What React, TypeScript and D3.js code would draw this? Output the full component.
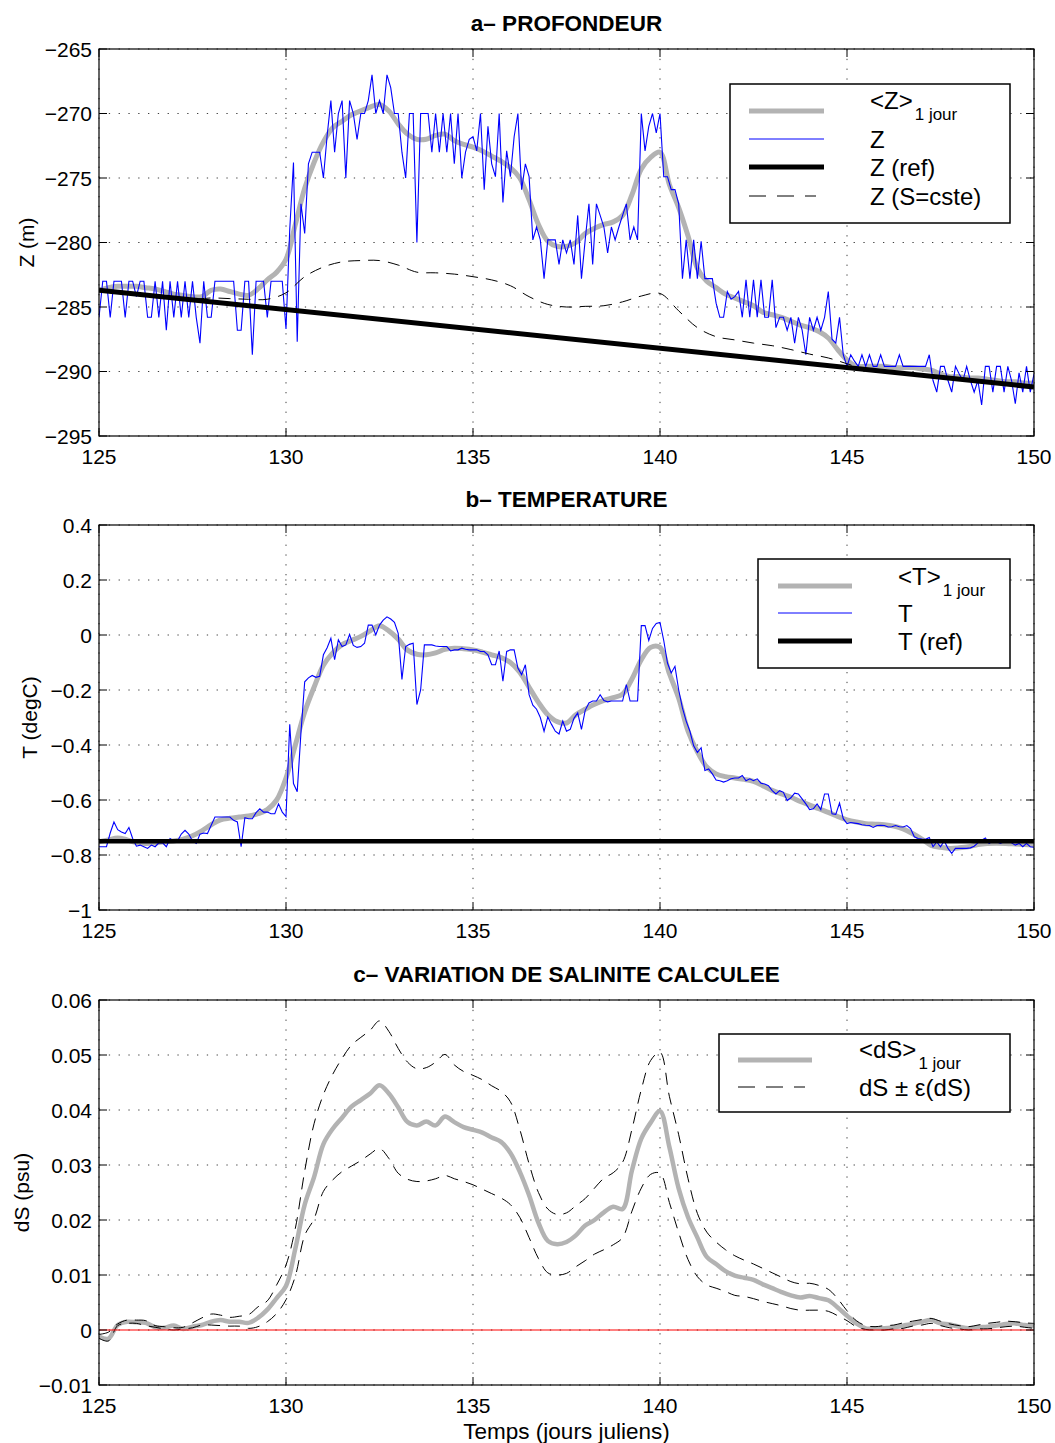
import React from "react";
import * as d3 from "d3";

const FONT = "'Liberation Sans', Arial, Helvetica, sans-serif";
const W = 1055;
const H = 1443;
const PLOT_LEFT = 99;
const PLOT_RIGHT = 1034;

const DAY_TICKS = [125, 130, 135, 140, 145, 150];
const Z_TICKS = [-265, -270, -275, -280, -285, -290, -295];
const T_TICKS = [0.4, 0.2, 0, -0.2, -0.4, -0.6, -0.8, -1];
const DS_TICKS = [0.06, 0.05, 0.04, 0.03, 0.02, 0.01, 0, -0.01];

const DAY_START = 125;
const FINE_STEP = 0.1;
const SMOOTH_STEP = 0.25;
const HALF_STEP = 0.5;

// a- PROFONDEUR : raw Z every 0.1 day
const zRaw = [
  -285.8, -283, -283, -285.8, -283, -283, -283, -285.8, -283, -283,
  -284.2, -283, -283, -285.8, -285.8, -283, -285.8, -283, -286.8, -283,
  -285.8, -283, -285.8, -283, -285.8, -283, -285.8, -287.8, -283, -285.8,
  -285.8, -283, -283, -283, -283, -283, -283, -286.8, -286.8, -283,
  -283, -288.7, -283, -283, -283, -285.8, -283, -283, -283, -283,
  -286.7, -279, -273.8, -287.7, -277, -279.3, -273.9, -273, -273, -273,
  -275, -271.7, -269, -273, -270, -269, -275, -269, -270, -272,
  -270, -270, -269, -267, -270, -269, -270, -267, -268, -270,
  -270, -273, -275, -270, -270, -280, -270, -270, -270, -273,
  -270, -273, -270, -273, -270, -273.9, -270, -275, -273, -272,
  -271.8, -272.9, -270, -275.9, -271, -273.9, -274.9, -270, -276.9, -272.9,
  -274.9, -271.8, -270, -275.9, -273.9, -274.9, -279.8, -278.8, -279.8, -282.8,
  -279.8, -279.8, -279.8, -281.7, -279.8, -280.8, -279.8, -281.7, -277.9, -282.8,
  -279.8, -277, -281.7, -277, -277.9, -278.8, -280.8, -278.8, -279.8, -278.8,
  -277.9, -277, -279.8, -278.8, -279.8, -270, -272.9, -271, -270, -271.5,
  -270, -274.9, -274.9, -275.9, -275.9, -277, -282.8, -279.8, -282.8, -279.8,
  -282.8, -279.9, -282.8, -282.8, -282.8, -284.7, -285.8, -285.8, -283.8, -284.4,
  -284.2, -283.8, -285.8, -282.9, -285.8, -282.9, -285.8, -282.9, -285.8, -285.8,
  -282.9, -286.6, -285.8, -285.8, -286.8, -285.8, -287.8, -285.8, -286.8, -288.7,
  -285.8, -286.8, -285.8, -286.8, -285.8, -283.8, -287.5, -287.8, -285.8, -288.7,
  -289.6, -288.7, -289.2, -289.6, -288.7, -289.6, -288.7, -289.6, -289.6, -288.7,
  -289.6, -289.6, -289.6, -289.6, -288.7, -289.6, -289.6, -289.6, -289.6, -289.6,
  -289.6, -289.6, -288.7, -290.7, -291.6, -289.6, -289.6, -290.7, -291.6, -289.6,
  -290.2, -290.7, -289.6, -290.7, -291.6, -290.7, -292.6, -289.6, -289.6, -291.6,
  -289.6, -289.6, -291.6, -289.6, -290.7, -292.5, -290.1, -291.6, -289.6, -291.6,
  -290.2,
];

// <Z> 1 jour, every 0.25 day
const zMean = [
  -283.7, -283.5, -283.4, -283.4, -283.4, -283.5, -283.6, -283.8, -284.0, -284.1,
  -284.2, -284.2, -283.7, -283.6, -283.8, -284.0, -284.1, -283.6, -282.9, -282.3,
  -281.3, -278.6, -275.8, -273.8, -272.2, -271.1, -270.6, -270.1, -269.8, -269.5,
  -269.3, -269.8, -270.8, -271.6, -272.0, -272.0, -271.7, -271.6, -272.1, -272.4,
  -272.6, -272.9, -273.3, -273.7, -274.2, -275.0, -276.7, -278.6, -279.9, -280.3,
  -280.3, -280.0, -279.3, -278.9, -278.6, -278.4, -277.9, -276.3, -274.3, -273.4,
  -273.0, -275.5, -277.3, -279.5, -282.0, -283.0, -283.5, -284.0, -284.3, -284.6,
  -284.9, -285.4, -285.6, -285.8, -286.1, -286.4, -286.6, -286.9, -287.4, -288.3,
  -289.1, -289.6, -289.6, -289.6, -289.6, -289.7, -289.7, -289.7, -289.8, -289.9,
  -290.2, -290.4, -290.4, -290.5, -290.5, -290.6, -290.7, -290.8, -290.8, -290.9,
  -290.9,
];

const refDays = [125, 150];
const zRef = [-283.7, -291.2];

// Z (S=cste), every 0.5 day
const zConstS = [
  -283.7, -283.85, -284.0, -284.15, -284.3, -284.4, -284.3, -284.35, -284.4, -284.4,
  -283.9, -282.65, -281.9, -281.5, -281.4, -281.4, -281.75, -282.3, -282.35, -282.45,
  -282.65, -282.9, -283.35, -284.2, -284.8, -285.0, -284.95, -284.9, -284.6, -284.15,
  -283.95, -285.3, -286.6, -287.3, -287.55, -287.8, -288.0, -288.3, -288.65, -288.95,
  -289.4, -289.85, -290.0, -290.15, -290.3, -290.45, -290.6, -290.75, -290.9, -291.05,
  -291.2,
];

// b- TEMPERATURE : raw T every 0.1 day
const tRaw = [
  -0.77, -0.77, -0.77, -0.72, -0.68, -0.708, -0.716, -0.722, -0.70, -0.74,
  -0.768, -0.764, -0.77, -0.776, -0.764, -0.77, -0.756, -0.756, -0.77, -0.74,
  -0.749, -0.749, -0.724, -0.71, -0.724, -0.749, -0.758, -0.724, -0.72, -0.722,
  -0.692, -0.662, -0.662, -0.662, -0.662, -0.662, -0.674, -0.68, -0.77, -0.664,
  -0.668, -0.668, -0.646, -0.632, -0.644, -0.644, -0.65, -0.65, -0.614, -0.644,
  -0.66, -0.325, -0.54, -0.57, -0.355, -0.17, -0.156, -0.147, -0.154, -0.15,
  -0.072, -0.046, -0.012, -0.09, -0.018, -0.042, -0.036, 0.002, -0.038, -0.045,
  -0.042, -0.03, 0.036, 0.036, 0.0, 0.036, 0.054, 0.066, 0.058, 0.046,
  0.006, -0.162, -0.042, -0.034, -0.03, -0.253, -0.2, -0.036, -0.036, -0.036,
  -0.04, -0.042, -0.042, -0.042, -0.058, -0.054, -0.054, -0.048, -0.052, -0.054,
  -0.054, -0.054, -0.06, -0.06, -0.072, -0.108, -0.108, -0.058, -0.168, -0.06,
  -0.054, -0.054, -0.12, -0.144, -0.108, -0.217, -0.255, -0.27, -0.30, -0.35,
  -0.298, -0.325, -0.35, -0.36, -0.313, -0.35, -0.343, -0.303, -0.283, -0.343,
  -0.274, -0.247, -0.24, -0.24, -0.217, -0.238, -0.243, -0.24, -0.24, -0.24,
  -0.24, -0.18, -0.24, -0.24, -0.24, 0.034, 0.034, -0.02, 0.024, 0.042,
  0.046, -0.02, -0.102, -0.138, -0.114, -0.2, -0.265, -0.313, -0.35, -0.403,
  -0.427, -0.41, -0.493, -0.487, -0.505, -0.527, -0.53, -0.535, -0.53, -0.523,
  -0.52, -0.52, -0.511, -0.53, -0.523, -0.53, -0.523, -0.539, -0.542, -0.548,
  -0.566, -0.578, -0.566, -0.572, -0.602, -0.592, -0.575, -0.578, -0.596, -0.614,
  -0.635, -0.632, -0.614, -0.635, -0.578, -0.578, -0.65, -0.652, -0.611, -0.668,
  -0.686, -0.682, -0.684, -0.686, -0.69, -0.692, -0.693, -0.70, -0.693, -0.692,
  -0.693, -0.698, -0.697, -0.693, -0.697, -0.698, -0.693, -0.704, -0.734, -0.74,
  -0.742, -0.743, -0.736, -0.77, -0.752, -0.77, -0.749, -0.776, -0.794, -0.776,
  -0.776, -0.776, -0.776, -0.774, -0.768, -0.756, -0.746, -0.738, -0.758, -0.749,
  -0.752, -0.758, -0.752, -0.746, -0.756, -0.764, -0.758, -0.77, -0.758, -0.77,
  -0.772,
];

// <T> 1 jour, every 0.25 day
const tMean = [
  -0.752, -0.745, -0.738, -0.745, -0.755, -0.758, -0.756, -0.752, -0.749, -0.742,
  -0.73, -0.712, -0.69, -0.672, -0.666, -0.662, -0.658, -0.65, -0.635, -0.6,
  -0.52, -0.4, -0.28, -0.19, -0.11, -0.065, -0.035, -0.02, -0.005, 0.015,
  0.034, 0.015, -0.015, -0.055, -0.07, -0.072, -0.065, -0.052, -0.048, -0.05,
  -0.054, -0.062, -0.072, -0.082, -0.1, -0.135, -0.19, -0.245, -0.29, -0.315,
  -0.32, -0.29, -0.27, -0.252, -0.238, -0.228, -0.215, -0.16, -0.09, -0.045,
  -0.045, -0.14, -0.23, -0.35, -0.425, -0.48, -0.505, -0.515, -0.52, -0.525,
  -0.532, -0.548, -0.565, -0.578, -0.59, -0.605, -0.618, -0.632, -0.645, -0.66,
  -0.672, -0.68, -0.686, -0.688, -0.69, -0.695, -0.705, -0.722, -0.742, -0.765,
  -0.772, -0.776, -0.774, -0.77, -0.762, -0.758, -0.757, -0.758, -0.76, -0.762,
  -0.764,
];

const tRef = [-0.75, -0.75];

// c- VARIATION DE SALINITE : every 0.25 day
const dsMean = [
  -0.0012, -0.0016, 0.0009, 0.0015, 0.0014, 0.0013, 0.0005, 0.0004, 0.0008, 0.0002,
  0.0006, 0.0009, 0.0015, 0.0018, 0.0015, 0.0015, 0.0013, 0.0022, 0.0037, 0.0058,
  0.008, 0.0148, 0.0228, 0.0278, 0.0338, 0.0366, 0.0386, 0.0406, 0.0418, 0.043,
  0.0445, 0.043, 0.0405, 0.0378, 0.0372, 0.0379, 0.0372, 0.0388, 0.0378, 0.0369,
  0.0364, 0.0359, 0.035, 0.0342, 0.0322, 0.0288, 0.0245, 0.0195, 0.0162, 0.0156,
  0.016, 0.0172, 0.019, 0.02, 0.0214, 0.0224, 0.022, 0.029, 0.0348, 0.0377,
  0.0398, 0.0333, 0.0257, 0.0205, 0.0168, 0.0133, 0.012, 0.0107, 0.0099, 0.0095,
  0.0091, 0.0083, 0.0076, 0.0069, 0.0063, 0.0059, 0.0062, 0.0058, 0.0054, 0.0041,
  0.0026, 0.0012, 0.0003, 0.0003, 0.0003, 0.0005, 0.0008, 0.0011, 0.0015, 0.0018,
  0.0012, 0.001, 0.0006, 0.0003, 0.0005, 0.0006, 0.0008, 0.0011, 0.0012, 0.0009,
  0.0007,
];

const dsUpper = [
  -0.0008, -0.0004, 0.0011, 0.0018, 0.0018, 0.0017, 0.0008, 0.0006, 0.0004, 0.0005,
  0.0013, 0.0022, 0.0029, 0.0027, 0.0023, 0.0025, 0.0028, 0.0042, 0.0053, 0.0082,
  0.0118, 0.0185, 0.0289, 0.0375, 0.0428, 0.0465, 0.0494, 0.0518, 0.0532, 0.0545,
  0.0562, 0.0543, 0.0512, 0.0487, 0.0475, 0.0477, 0.0487, 0.0501, 0.0482, 0.047,
  0.0463, 0.0455, 0.0444, 0.0434, 0.0415, 0.0365, 0.0302, 0.025, 0.022, 0.021,
  0.0213, 0.0226, 0.0239, 0.0258, 0.0276, 0.0286, 0.0305, 0.0365, 0.0437, 0.049,
  0.0505, 0.0425, 0.0355, 0.0275, 0.0212, 0.0178, 0.016, 0.0146, 0.0135, 0.0127,
  0.012, 0.0112, 0.0104, 0.0096, 0.0088, 0.0084, 0.0085, 0.0081, 0.0074, 0.0057,
  0.0035, 0.0017, 0.0008, 0.0006, 0.0008, 0.0009, 0.0013, 0.0016, 0.0019, 0.0021,
  0.0016, 0.0011, 0.0008, 0.0006, 0.0009, 0.0012, 0.0014, 0.0016, 0.0015, 0.0013,
  0.0012,
];

const dsLower = [
  -0.0015, -0.002, 0.0008, 0.0012, 0.0012, 0.0008, 0.0005, 0.0002, 0.0, 0.0002,
  0.0004, 0.0009, 0.0009, 0.0008, 0.0007, 0.0007, 0.0003, 0.0006, 0.0015, 0.003,
  0.0055, 0.0098, 0.0172, 0.0202, 0.0252, 0.0273, 0.0288, 0.0298, 0.0308, 0.032,
  0.033, 0.0312, 0.0285, 0.0274, 0.027, 0.0271, 0.0275, 0.0281, 0.0275, 0.027,
  0.0264, 0.0256, 0.0248, 0.024, 0.0228, 0.0205, 0.0168, 0.013, 0.0104, 0.01,
  0.0103, 0.0115, 0.0126, 0.0138, 0.0146, 0.0155, 0.0168, 0.0216, 0.0258, 0.0283,
  0.0285, 0.0232, 0.0177, 0.0128, 0.0097, 0.0082, 0.0076, 0.007, 0.0063, 0.0061,
  0.0057, 0.0052, 0.0048, 0.0044, 0.0039, 0.0036, 0.0036, 0.0036, 0.0034, 0.0026,
  0.0017, 0.0006, 0.0001, 0.0, 0.0, 0.0002, 0.0003, 0.0007, 0.0009, 0.0012,
  0.0008, 0.0004, 0.0002, 0.0, 0.0002, 0.0002, 0.0004, 0.0006, 0.0007, 0.0005,
  0.0003,
];

const zeroLine = [0, 0];

const fineDays = zRaw.map((_, i) => DAY_START + i * FINE_STEP);
const smoothDays = zMean.map((_, i) => DAY_START + i * SMOOTH_STEP);
const halfDays = zConstS.map((_, i) => DAY_START + i * HALF_STEP);

const GRAY = "#b3b3b3";
const BLUE = "#0000ff";
const GRID_DASH = "1.3,8.5";
const DATA_DASH = "12,8";
const LEGEND_DASH = "17,11";

type Scale = d3.ScaleLinear<number, number>;

function path(x: Scale, y: Scale, xs: number[], ys: number[], curve: d3.CurveFactory = d3.curveLinear) {
  return d3
    .line<number>()
    .x((_, i) => x(xs[i]))
    .y((d) => y(d))
    .curve(curve)(ys) as string;
}

function fmt(n: number) {
  const a = Math.abs(n);
  const s = String(parseFloat(a.toFixed(4)));
  return n < 0 ? "\u2212" + s : s;
}

interface PanelProps {
  id: string;
  top: number;
  bottom: number;
  yDomain: [number, number];
  yTicks: number[];
  title: string;
  ylabel: string;
  ylabelX: number;
  draw: (x: Scale, y: Scale) => React.ReactNode;
  legend: React.ReactNode;
}

function Panel({ id, top, bottom, yDomain, yTicks, title, ylabel, ylabelX, draw, legend }: PanelProps) {
  const x = d3.scaleLinear().domain([125, 150]).range([PLOT_LEFT, PLOT_RIGHT]);
  const y = d3.scaleLinear().domain(yDomain).range([bottom, top]);
  const tickLen = 8;
  return (
    <g>
      <defs>
        <clipPath id={id}>
          <rect x={PLOT_LEFT} y={top} width={PLOT_RIGHT - PLOT_LEFT} height={bottom - top} />
        </clipPath>
      </defs>
      <rect x={PLOT_LEFT} y={top} width={PLOT_RIGHT - PLOT_LEFT} height={bottom - top} fill="#fff" />
      {/* grid */}
      <g stroke="#000" strokeWidth={1} strokeDasharray={GRID_DASH} opacity={0.75}>
        {yTicks.map((t) => (
          <line key={"gy" + t} x1={PLOT_LEFT} x2={PLOT_RIGHT} y1={y(t)} y2={y(t)} />
        ))}
        {DAY_TICKS.map((t) => (
          <line key={"gx" + t} x1={x(t)} x2={x(t)} y1={top} y2={bottom} />
        ))}
      </g>
      <g clipPath={`url(#${id})`}>{draw(x, y)}</g>
      {/* ticks */}
      <g stroke="#000" strokeWidth={1}>
        {yTicks.map((t) => (
          <g key={"ty" + t}>
            <line x1={PLOT_LEFT} x2={PLOT_LEFT + tickLen} y1={y(t)} y2={y(t)} />
            <line x1={PLOT_RIGHT - tickLen} x2={PLOT_RIGHT} y1={y(t)} y2={y(t)} />
          </g>
        ))}
        {DAY_TICKS.map((t) => (
          <g key={"tx" + t}>
            <line x1={x(t)} x2={x(t)} y1={bottom} y2={bottom - tickLen} />
            <line x1={x(t)} x2={x(t)} y1={top} y2={top + tickLen} />
          </g>
        ))}
      </g>
      <rect
        x={PLOT_LEFT}
        y={top}
        width={PLOT_RIGHT - PLOT_LEFT}
        height={bottom - top}
        fill="none"
        stroke="#000"
        strokeWidth={1.2}
      />
      {/* tick labels */}
      <g fontFamily={FONT} fontSize={21} fill="#000">
        {yTicks.map((t) => (
          <text key={"ly" + t} x={92} y={y(t) + 7.5} textAnchor="end">
            {fmt(t)}
          </text>
        ))}
        {DAY_TICKS.map((t) => (
          <text key={"lx" + t} x={x(t)} y={bottom + 27.5} textAnchor="middle">
            {fmt(t)}
          </text>
        ))}
      </g>
      <text
        x={(PLOT_LEFT + PLOT_RIGHT) / 2}
        y={top - 18}
        textAnchor="middle"
        fontFamily={FONT}
        fontWeight="bold"
        fontSize={22.5}
      >
        {title}
      </text>
      <text
        transform={`translate(${ylabelX},${(top + bottom) / 2}) rotate(-90)`}
        textAnchor="middle"
        fontFamily={FONT}
        fontSize={21}
      >
        {ylabel}
      </text>
      {legend}
    </g>
  );
}

interface LegendRow {
  y: number;
  stroke: string;
  width: number;
  dash?: string;
  x1: number;
  x2: number;
}

function LegendBox({
  x,
  y,
  w,
  h,
  rows,
  children,
}: {
  x: number;
  y: number;
  w: number;
  h: number;
  rows: LegendRow[];
  children: React.ReactNode;
}) {
  return (
    <g>
      <rect x={x} y={y} width={w} height={h} fill="#fff" stroke="#000" strokeWidth={1.5} />
      {rows.map((r, i) => (
        <line
          key={i}
          x1={r.x1}
          x2={r.x2}
          y1={r.y}
          y2={r.y}
          stroke={r.stroke}
          strokeWidth={r.width}
          strokeDasharray={r.dash}
        />
      ))}
      <g fontFamily={FONT} fontSize={24} fill="#000">
        {children}
      </g>
    </g>
  );
}

function MeanLabel({ x, y, name }: { x: number; y: number; name: string }) {
  return (
    <text x={x} y={y}>
      <tspan>{`<${name}>`}</tspan>
      <tspan dx={2} dy={11} fontSize={17}>
        1 jour
      </tspan>
    </text>
  );
}

export default function App() {
  return (
    <svg
      width={W}
      height={H}
      viewBox={`0 0 ${W} ${H}`}
      style={{ position: "absolute", left: 0, top: 0, background: "#fff" }}
    >
      <rect x={0} y={0} width={W} height={H} fill="#fff" />

      {/* a- PROFONDEUR */}
      <Panel
        id="clipA"
        top={49}
        bottom={436}
        yDomain={[-295, -265]}
        yTicks={Z_TICKS}
        title="a– PROFONDEUR"
        ylabel="Z (m)"
        ylabelX={34}
        draw={(x, y) => (
          <g fill="none">
            <path d={path(x, y, smoothDays, zMean, d3.curveCatmullRom)} stroke={GRAY} strokeWidth={5} />
            <path d={path(x, y, fineDays, zRaw)} stroke={BLUE} strokeWidth={1.1} />
            <path d={path(x, y, refDays, zRef)} stroke="#000" strokeWidth={5} />
            <path
              d={path(x, y, halfDays, zConstS, d3.curveCatmullRom)}
              stroke="#000"
              strokeWidth={1}
              strokeDasharray={DATA_DASH}
            />
          </g>
        )}
        legend={
          <LegendBox
            x={730}
            y={84}
            w={280}
            h={139}
            rows={[
              { y: 111, stroke: GRAY, width: 5, x1: 749, x2: 824 },
              { y: 139, stroke: BLUE, width: 1, x1: 749, x2: 824 },
              { y: 167, stroke: "#000", width: 5, x1: 749, x2: 824 },
              { y: 196, stroke: "#000", width: 1, x1: 749, x2: 816, dash: LEGEND_DASH },
            ]}
          >
            <MeanLabel x={870} y={109} name="Z" />
            <text x={870} y={148}>Z</text>
            <text x={870} y={176}>Z (ref)</text>
            <text x={870} y={205}>Z (S=cste)</text>
          </LegendBox>
        }
      />

      {/* b- TEMPERATURE */}
      <Panel
        id="clipB"
        top={525}
        bottom={910}
        yDomain={[-1, 0.4]}
        yTicks={T_TICKS}
        title="b– TEMPERATURE"
        ylabel="T (degC)"
        ylabelX={37}
        draw={(x, y) => (
          <g fill="none">
            <path d={path(x, y, smoothDays, tMean, d3.curveCatmullRom)} stroke={GRAY} strokeWidth={5} />
            <path d={path(x, y, fineDays, tRaw)} stroke={BLUE} strokeWidth={1.1} />
            <path d={path(x, y, refDays, tRef)} stroke="#000" strokeWidth={4.5} />
          </g>
        )}
        legend={
          <LegendBox
            x={758}
            y={559}
            w={252}
            h={109}
            rows={[
              { y: 586, stroke: GRAY, width: 5, x1: 778, x2: 852 },
              { y: 613, stroke: BLUE, width: 1, x1: 778, x2: 852 },
              { y: 641, stroke: "#000", width: 5, x1: 778, x2: 852 },
            ]}
          >
            <MeanLabel x={898} y={585} name="T" />
            <text x={898} y={622}>T</text>
            <text x={898} y={650}>T (ref)</text>
          </LegendBox>
        }
      />

      {/* c- VARIATION DE SALINITE CALCULEE */}
      <Panel
        id="clipC"
        top={1000}
        bottom={1385}
        yDomain={[-0.01, 0.06]}
        yTicks={DS_TICKS}
        title="c– VARIATION DE SALINITE CALCULEE"
        ylabel="dS (psu)"
        ylabelX={29}
        draw={(x, y) => (
          <g fill="none">
            <path d={path(x, y, smoothDays, dsMean, d3.curveCatmullRom)} stroke={GRAY} strokeWidth={4.5} />
            <path
              d={path(x, y, smoothDays, dsUpper, d3.curveCatmullRom)}
              stroke="#000"
              strokeWidth={1}
              strokeDasharray={DATA_DASH}
            />
            <path
              d={path(x, y, smoothDays, dsLower, d3.curveCatmullRom)}
              stroke="#000"
              strokeWidth={1}
              strokeDasharray={DATA_DASH}
            />
            <path d={path(x, y, refDays, zeroLine)} stroke="#ff0000" strokeWidth={1} />
          </g>
        )}
        legend={
          <LegendBox
            x={719}
            y={1034}
            w={291}
            h={78}
            rows={[
              { y: 1060, stroke: GRAY, width: 5, x1: 738, x2: 812 },
              { y: 1087, stroke: "#000", width: 1, x1: 738, x2: 805, dash: LEGEND_DASH },
            ]}
          >
            <MeanLabel x={859} y={1058} name="dS" />
            <text x={859} y={1096}>dS ± ε(dS)</text>
          </LegendBox>
        }
      />

      <text x={(PLOT_LEFT + PLOT_RIGHT) / 2} y={1439} textAnchor="middle" fontFamily={FONT} fontSize={22.5}>
        Temps (jours juliens)
      </text>
    </svg>
  );
}
